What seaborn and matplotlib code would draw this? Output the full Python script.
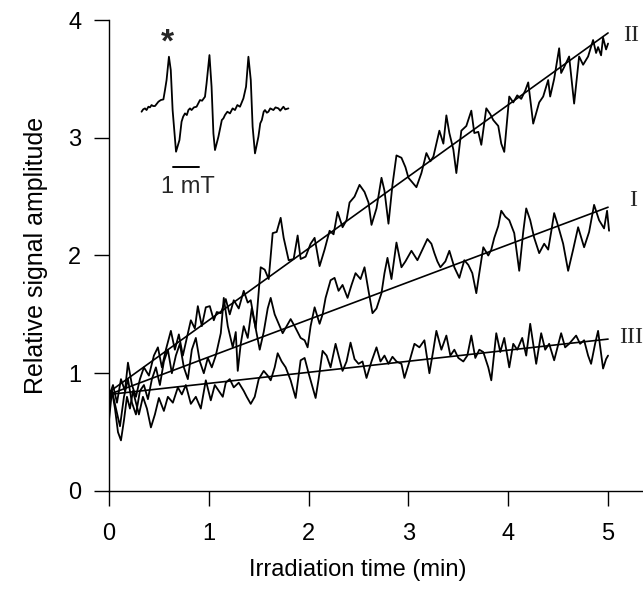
import numpy as np
import pandas as pd
import matplotlib
matplotlib.use('Agg')
import matplotlib.pyplot as plt
import seaborn as sns

# trace II (fastest growth)
t_II = [0.00, 0.04, 0.08, 0.12, 0.16, 0.19, 0.23, 0.27, 0.31, 0.35, 0.40, 0.45, 0.49, 0.53, 0.57,
        0.62, 0.66, 0.70, 0.74, 0.78, 0.82, 0.86, 0.89, 0.93, 0.97, 1.01, 1.05, 1.08, 1.12, 1.17,
        1.21, 1.25, 1.30, 1.35, 1.39, 1.42, 1.47, 1.52, 1.56, 1.60, 1.64, 1.68, 1.72, 1.75, 1.80,
        1.85, 1.89, 1.92, 1.97, 2.02, 2.06, 2.11, 2.16, 2.21, 2.25, 2.29, 2.34, 2.38, 2.41, 2.46,
        2.51, 2.56, 2.60, 2.63, 2.68, 2.73, 2.76, 2.80, 2.84, 2.88, 2.93, 2.97, 3.00, 3.04, 3.08,
        3.13, 3.18, 3.22, 3.25, 3.31, 3.35, 3.38, 3.41, 3.45, 3.48, 3.53, 3.58, 3.63, 3.66, 3.70,
        3.73, 3.78, 3.82, 3.85, 3.90, 3.93, 3.96, 4.01, 4.05, 4.09, 4.13, 4.17, 4.20, 4.25, 4.31,
        4.35, 4.40, 4.42, 4.46, 4.51, 4.53, 4.56, 4.61, 4.66, 4.71, 4.75, 4.80, 4.85, 4.88, 4.90,
        4.93, 4.95, 4.98, 5.00]
v_II = [0.80, 0.90, 0.75, 0.95, 0.85, 1.09, 0.90, 0.80, 0.95, 1.05, 0.98, 1.15, 1.22, 1.05, 1.20,
        1.36, 1.20, 1.33, 1.15, 1.30, 1.45, 1.38, 1.57, 1.40, 1.56, 1.57, 1.45, 1.52, 1.51, 1.63,
        1.50, 1.62, 1.55, 1.70, 1.60, 1.62, 1.38, 1.90, 1.88, 1.80, 2.19, 2.20, 2.32, 2.15, 1.96,
        1.97, 2.17, 1.97, 1.99, 2.10, 2.15, 1.91, 2.05, 2.21, 2.18, 2.37, 2.24, 2.30, 2.45, 2.50,
        2.60, 2.54, 2.45, 2.26, 2.40, 2.66, 2.55, 2.27, 2.60, 2.85, 2.83, 2.75, 2.66, 2.62, 2.58,
        2.70, 2.87, 2.80, 2.84, 3.06, 2.95, 3.19, 3.04, 2.90, 2.70, 3.06, 3.10, 3.23, 3.04, 3.05,
        2.94, 3.25, 3.20, 3.15, 3.10, 2.95, 2.88, 3.35, 3.30, 3.36, 3.33, 3.40, 3.47, 3.12, 3.30,
        3.35, 3.49, 3.35, 3.50, 3.76, 3.55, 3.60, 3.69, 3.29, 3.69, 3.62, 3.69, 3.83, 3.72, 3.77,
        3.70, 3.85, 3.75, 3.80]

# trace I
t_I = [0.00, 0.03, 0.07, 0.11, 0.15, 0.19, 0.23, 0.27, 0.31, 0.35, 0.39, 0.43, 0.47, 0.51, 0.55,
       0.59, 0.63, 0.67, 0.71, 0.75, 0.79, 0.83, 0.87, 0.91, 0.95, 0.99, 1.03, 1.07, 1.12, 1.15,
       1.19, 1.24, 1.27, 1.29, 1.32, 1.35, 1.39, 1.43, 1.47, 1.51, 1.55, 1.59, 1.62, 1.66, 1.70,
       1.74, 1.78, 1.82, 1.86, 1.92, 1.96, 1.99, 2.02, 2.06, 2.11, 2.14, 2.17, 2.22, 2.26, 2.30,
       2.34, 2.39, 2.43, 2.47, 2.52, 2.56, 2.60, 2.64, 2.68, 2.73, 2.76, 2.79, 2.83, 2.88, 2.93,
       2.97, 3.03, 3.06, 3.09, 3.14, 3.19, 3.23, 3.26, 3.29, 3.32, 3.37, 3.41, 3.46, 3.51, 3.56,
       3.60, 3.64, 3.68, 3.71, 3.75, 3.80, 3.83, 3.86, 3.90, 3.93, 3.97, 4.01, 4.06, 4.11, 4.15,
       4.18, 4.22, 4.26, 4.31, 4.36, 4.40, 4.43, 4.46, 4.50, 4.55, 4.60, 4.65, 4.70, 4.76, 4.81,
       4.86, 4.91, 4.96, 4.99, 5.01]
v_I = [0.60, 0.85, 0.70, 0.55, 0.80, 0.95, 0.75, 0.65, 0.85, 0.90, 0.78, 0.95, 1.05, 0.90, 1.10,
       1.20, 1.00, 1.15, 1.25, 1.05, 0.95, 1.20, 1.30, 1.10, 1.00, 1.13, 1.05, 1.15, 1.34, 1.64,
       1.40, 1.22, 1.35, 1.02, 1.25, 1.40, 1.30, 1.55, 1.38, 1.20, 1.35, 1.55, 1.64, 1.50, 1.42,
       1.34, 1.40, 1.46, 1.40, 1.30, 1.28, 1.22, 1.40, 1.56, 1.42, 1.50, 1.64, 1.79, 1.81, 1.70,
       1.75, 1.64, 1.75, 1.85, 1.80, 1.90, 1.70, 1.51, 1.55, 1.68, 1.85, 1.98, 1.80, 2.11, 1.90,
       1.95, 2.04, 2.00, 1.96, 2.05, 2.14, 2.10, 2.02, 1.95, 1.90, 1.95, 2.04, 1.90, 1.81, 1.96,
       1.92, 1.85, 1.68, 1.85, 2.07, 2.00, 2.05, 2.15, 2.25, 2.38, 2.33, 2.30, 2.19, 1.87, 2.20,
       2.40, 2.30, 2.15, 2.02, 2.10, 2.05, 2.20, 2.36, 2.25, 2.10, 1.87, 2.05, 2.24, 2.07, 2.20,
       2.43, 2.30, 2.23, 2.38, 2.21]

# trace III (slowest growth)
t_III = [0.00, 0.03, 0.06, 0.09, 0.12, 0.15, 0.18, 0.21, 0.24, 0.27, 0.30, 0.34, 0.38, 0.42, 0.46,
         0.50, 0.55, 0.59, 0.64, 0.69, 0.73, 0.77, 0.82, 0.87, 0.92, 0.97, 1.02, 1.06, 1.10, 1.14,
         1.17, 1.21, 1.25, 1.30, 1.35, 1.38, 1.42, 1.46, 1.50, 1.55, 1.59, 1.62, 1.66, 1.69, 1.73,
         1.77, 1.82, 1.87, 1.92, 1.96, 2.00, 2.04, 2.07, 2.10, 2.14, 2.18, 2.22, 2.27, 2.30, 2.34,
         2.38, 2.42, 2.46, 2.50, 2.54, 2.58, 2.63, 2.68, 2.72, 2.76, 2.80, 2.84, 2.88, 2.93, 2.96,
         3.01, 3.06, 3.11, 3.16, 3.21, 3.25, 3.28, 3.33, 3.38, 3.42, 3.46, 3.50, 3.55, 3.59, 3.63,
         3.67, 3.71, 3.75, 3.80, 3.83, 3.88, 3.92, 3.96, 4.01, 4.05, 4.09, 4.14, 4.18, 4.22, 4.28,
         4.33, 4.37, 4.41, 4.46, 4.53, 4.57, 4.61, 4.68, 4.72, 4.76, 4.80, 4.83, 4.87, 4.90, 4.95,
         4.98, 5.00]
v_III = [0.75, 0.85, 0.70, 0.50, 0.43, 0.60, 0.80, 0.70, 0.85, 0.75, 0.65, 0.80, 0.70, 0.54, 0.65,
         0.79, 0.68, 0.80, 0.75, 0.88, 0.82, 0.90, 0.74, 0.80, 0.70, 0.94, 0.77, 0.90, 0.85, 0.80,
         0.92, 0.95, 0.88, 0.92, 0.85, 0.80, 0.74, 0.80, 0.95, 1.02, 0.98, 0.94, 1.05, 1.17, 1.10,
         1.05, 0.94, 0.79, 1.11, 1.13, 1.00, 0.88, 0.79, 0.95, 1.19, 1.15, 1.05, 1.25, 1.15, 1.02,
         1.10, 1.26, 1.12, 1.08, 1.10, 0.96, 1.10, 1.22, 1.10, 1.15, 1.08, 1.14, 1.10, 1.08, 0.96,
         1.10, 1.25, 1.22, 1.28, 1.00, 1.20, 1.36, 1.20, 1.32, 1.15, 1.20, 1.13, 1.10, 1.15, 1.32,
         1.13, 1.20, 1.18, 1.05, 0.94, 1.34, 1.18, 1.30, 1.05, 1.25, 1.20, 1.30, 1.15, 1.42, 1.08,
         1.34, 1.20, 1.25, 1.11, 1.34, 1.22, 1.25, 1.32, 1.25, 1.28, 1.15, 1.08, 1.25, 1.36, 1.04,
         1.12, 1.15]

# linear fits (end points)
fit_t = [0.0, 5.0]
fit_II = [0.84, 3.89]
fit_I = [0.82, 2.41]
fit_III = [0.82, 1.29]

# inset ESR spectrum (field in mT, signal arbitrary)
field = [0.06, 0.12, 0.19, 0.25, 0.32, 0.38, 0.44, 0.50, 0.57, 0.63, 0.70, 0.79, 0.89, 0.95, 1.01,
         1.10, 1.17, 1.24, 1.37, 1.50, 1.58, 1.64, 1.71, 1.78, 1.84, 1.90, 1.96, 2.05, 2.15, 2.28,
         2.36, 2.47, 2.53, 2.64, 2.72, 2.79, 2.85, 2.98, 3.11, 3.17, 3.23, 3.32, 3.42, 3.52, 3.61,
         3.70, 3.80, 3.93, 4.03, 4.12, 4.21, 4.28, 4.37, 4.50, 4.57, 4.63, 4.70, 4.75, 4.82, 4.88,
         4.95, 5.07, 5.15, 5.26, 5.33, 5.45, 5.52, 5.64]
signal = [-0.05, 0.02, 0.05, 0.00, 0.10, 0.08, 0.15, 0.12, 0.12, 0.18, 0.25, 0.30, 0.32, 0.60, 0.90,
          1.60, 1.20, 0.00, -1.25, -0.90, -0.35, -0.20, -0.10, -0.15, 0.00, 0.05, 0.00, 0.08, 0.10, 0.30,
          0.28, 0.40, 0.80, 1.65, 0.70, -0.70, -1.20, -0.80, -0.30, -0.25, -0.15, -0.05, -0.10, 0.05, 0.00,
          0.15, 0.10, 0.35, 0.70, 1.60, 0.90, -0.50, -1.30, -0.80, -0.40, -0.30, -0.05, 0.00, -0.08, -0.05,
          0.05, 0.00, 0.08, 0.05, -0.02, 0.10, 0.02, 0.05]

sns.set_theme(style='ticks')
plt.rcParams['font.family'] = ['Liberation Sans', 'DejaVu Sans']

fig = plt.figure(figsize=(6.43, 5.90), dpi=100)
ax = fig.add_axes([0.1695, 0.1678, 0.8305, 0.7983])

# noisy traces
for tt, vv in [(t_II, v_II), (t_I, v_I), (t_III, v_III)]:
    df = pd.DataFrame({'t': tt, 'v': vv})
    sns.lineplot(data=df, x='t', y='v', ax=ax, color='black', linewidth=1.3, estimator=None)

# fitted lines
for fv in [fit_II, fit_I, fit_III]:
    sns.lineplot(x=fit_t, y=fv, ax=ax, color='black', linewidth=1.2)

# roman numeral labels
ax.text(5.15, 3.87, 'II', family='Liberation Serif', fontsize=17, va='center', ha='left')
ax.text(5.21, 2.47, 'I', family='Liberation Serif', fontsize=17, va='center', ha='left')
ax.text(5.11, 1.30, 'III', family='Liberation Serif', fontsize=17, va='center', ha='left')

ax.set_xlim(0, 5.35)
ax.set_ylim(0, 4)
ax.set_xticks([0, 1, 2, 3, 4, 5])
ax.set_yticks([0, 1, 2, 3, 4])
ax.tick_params(axis='both', direction='out', length=11, width=1, colors='black', labelsize=17)
ax.tick_params(axis='x', pad=12)
ax.tick_params(axis='y', pad=9)
for s in ['top', 'right']:
    ax.spines[s].set_visible(False)
for s in ['left', 'bottom']:
    ax.spines[s].set_color('black')
    ax.spines[s].set_linewidth(1)

ax.set_xlabel('Irradiation time (min)', fontsize=17, color='black')
ax.set_ylabel('Relative signal amplitude', fontsize=18, color='black')
ax.xaxis.set_label_coords(0.466, -0.145)
ax.yaxis.set_label_coords(-0.115, 0.5)

# inset spectrum
ins = fig.add_axes([0.2177, 0.6666, 0.2333, 0.2881])
sns.lineplot(x=field, y=signal, ax=ins, color='black', linewidth=1.3, sort=False, estimator=None)
ins.set_xlim(0, 5.7)
ins.set_ylim(-2.6, 2.5)
ins.axis('off')
ins.plot([1.24, 2.24], [-1.71, -1.71], color='black', linewidth=1.4)
ins.text(1.83, -2.31, '1 mT', fontsize=17, ha='center', va='center')
ins.text(1.06, 2.0, '*', fontsize=24, fontweight='bold', ha='center', va='center')

fig.savefig('out.png', dpi=100)
